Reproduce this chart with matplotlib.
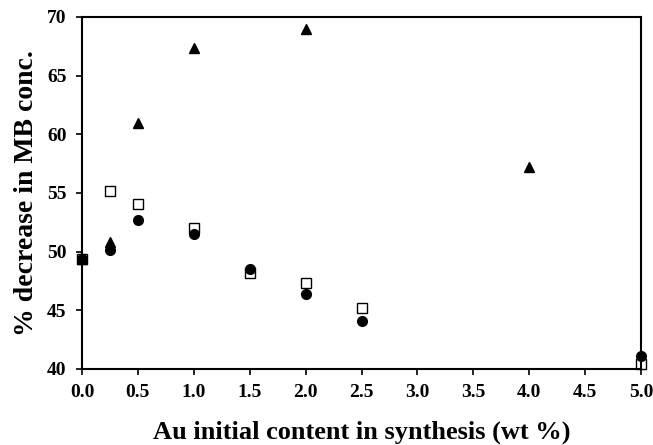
import matplotlib.pyplot as plt

# Data
au_tri = [0.0, 0.25, 0.5, 1.0, 2.0, 4.0]
dec_tri = [49.4, 50.8, 61.0, 67.4, 69.0, 57.2]

au_sq = [0.0, 0.25, 0.5, 1.0, 1.5, 2.0, 2.5, 5.0]
dec_sq = [49.4, 55.2, 54.1, 52.0, 48.2, 47.3, 45.2, 40.4]

au_circ = [0.0, 0.25, 0.5, 1.0, 1.5, 2.0, 2.5, 5.0]
dec_circ = [49.4, 50.1, 52.7, 51.5, 48.5, 46.4, 44.1, 41.1]

xticks = [0.0, 0.5, 1.0, 1.5, 2.0, 2.5, 3.0, 3.5, 4.0, 4.5, 5.0]
yticks = [40, 45, 50, 55, 60, 65, 70]

plt.rcParams['font.family'] = ['Liberation Serif', 'DejaVu Serif']
plt.rcParams['font.weight'] = 'bold'

fig = plt.figure(figsize=(6.53, 4.45), dpi=100)
ax = fig.add_axes([0.1256, 0.1708, 0.856, 0.791])

ax.plot(au_sq, dec_sq, linestyle='none', marker='s', markersize=7,
        markerfacecolor='white', markeredgecolor='black', markeredgewidth=1, clip_on=False)
ax.plot(au_circ, dec_circ, linestyle='none', marker='o', markersize=7,
        color='black', clip_on=False)
ax.plot(au_tri, dec_tri, linestyle='none', marker='^', markersize=7,
        color='black', clip_on=False)

ax.set_xlim(0, 5)
ax.set_ylim(40, 70)
ax.set_xticks(xticks)
ax.set_xticklabels([f'{v:.1f}' for v in xticks])
ax.set_yticks(yticks)
ax.tick_params(direction='out', length=4, width=1.2, labelsize=14, pad=7)
for lab in ax.get_xticklabels() + ax.get_yticklabels():
    lab.set_fontweight('bold')
for s in ax.spines.values():
    s.set_linewidth(1.5)

ax.set_xlabel('Au initial content in synthesis (wt %)', fontsize=19, fontweight='bold', labelpad=14)
ax.set_ylabel('% decrease in MB conc.', fontsize=20, fontweight='bold', labelpad=6)

fig.savefig('out.png', dpi=100)
